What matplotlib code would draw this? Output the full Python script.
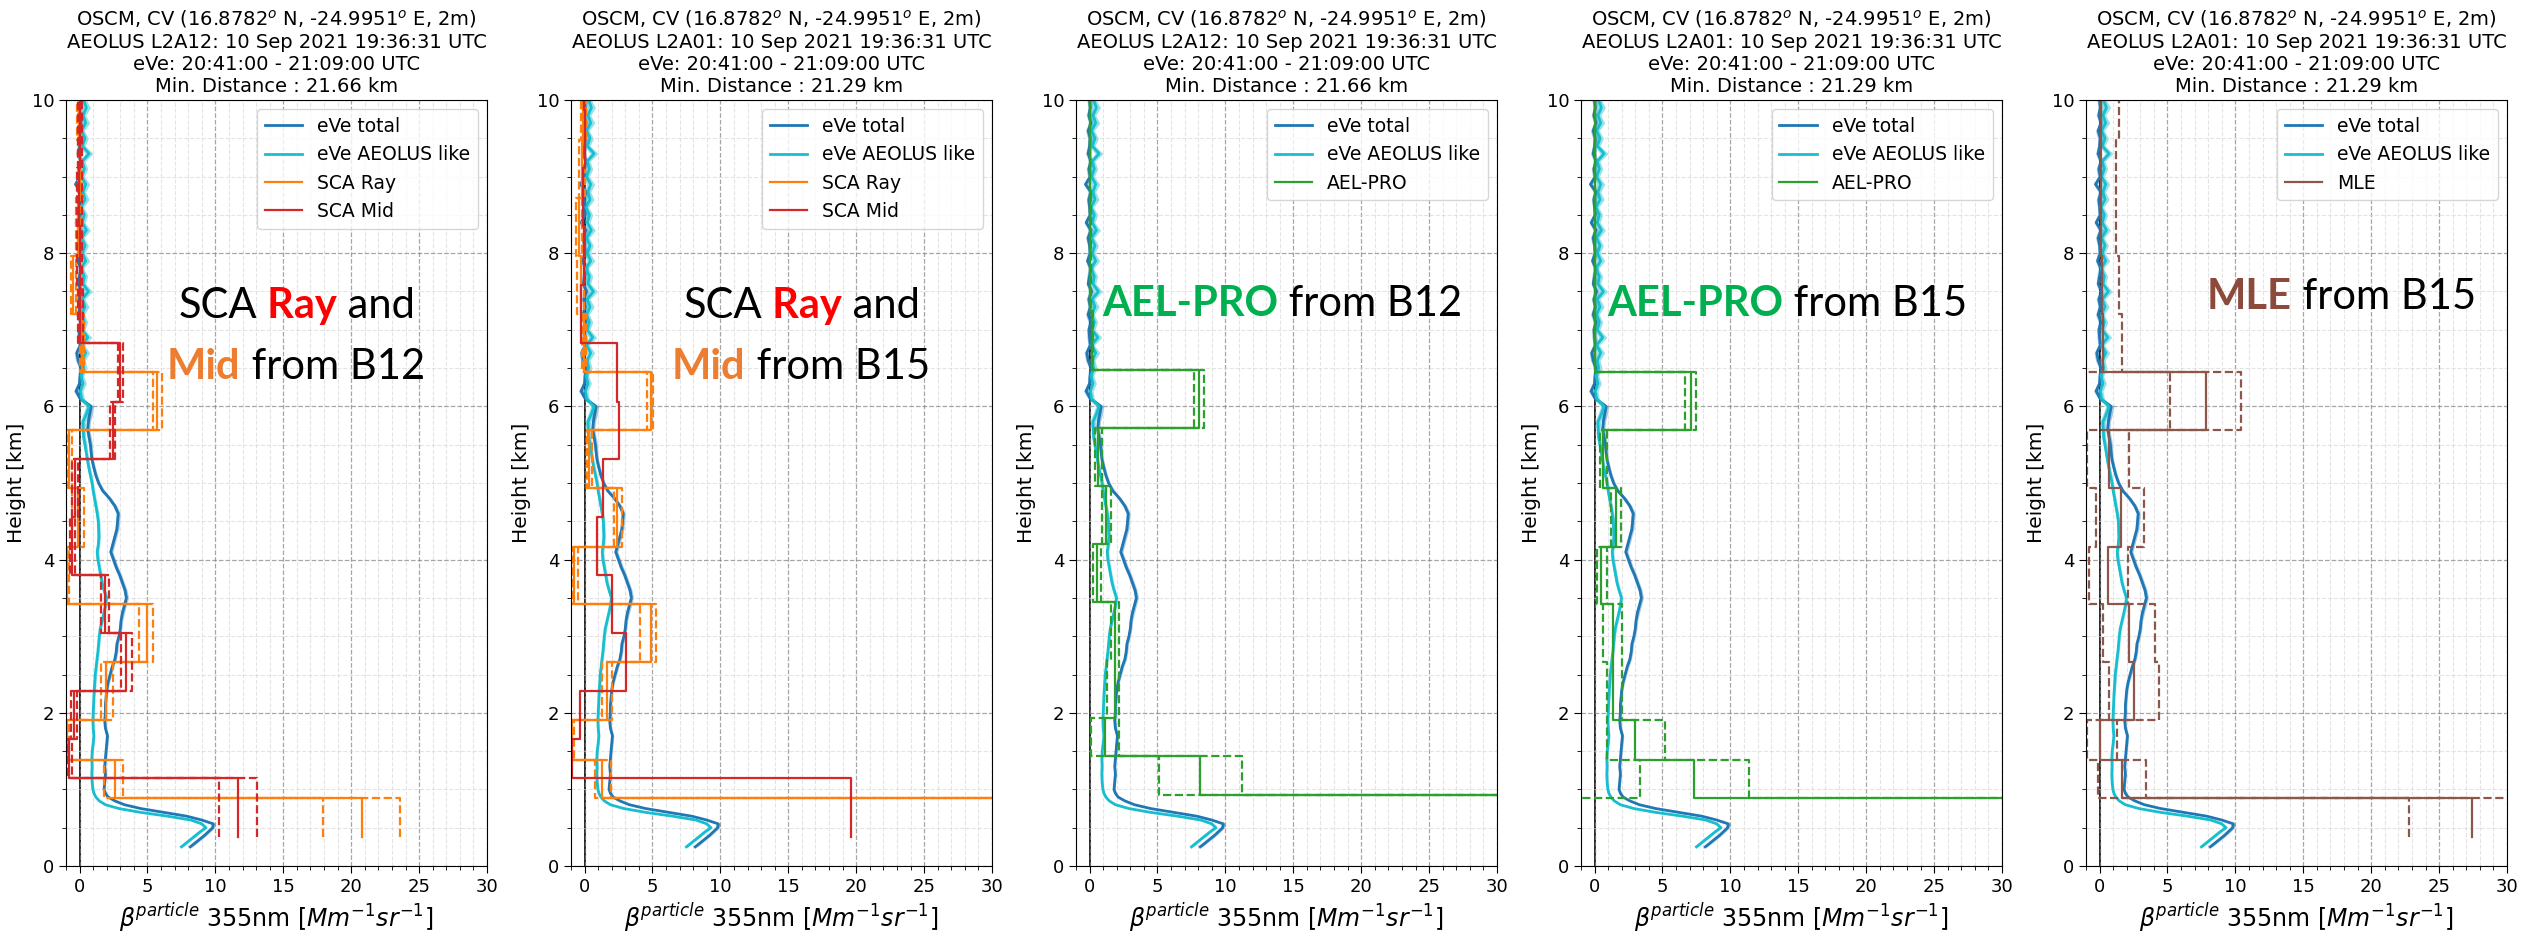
import numpy as np
import matplotlib
matplotlib.use('Agg')
import matplotlib.pyplot as plt
from matplotlib.ticker import MultipleLocator

# eVe profiles (height in km, beta in Mm-1 sr-1)
height = [0.25, 0.3, 0.35, 0.4, 0.45, 0.5, 0.55, 0.6, 0.65, 0.7, 0.75, 0.8, 0.85, 0.9, 0.95,
          1.0, 1.1, 1.2, 1.3, 1.4, 1.5, 1.6, 1.7, 1.8, 1.9,
          2.0, 2.1, 2.2, 2.3, 2.4, 2.5, 2.6, 2.7, 2.8, 2.9,
          3.0, 3.1, 3.2, 3.3, 3.4, 3.5, 3.6, 3.7, 3.8, 3.9,
          4.0, 4.1, 4.2, 4.3, 4.4, 4.5, 4.6, 4.7, 4.8, 4.9,
          5.0, 5.1, 5.2, 5.3, 5.4, 5.5, 5.6, 5.7, 5.8, 5.9,
          6.0, 6.1, 6.2, 6.3, 6.4, 6.5, 6.6, 6.7, 6.8, 6.9,
          7.0, 7.1, 7.2, 7.3, 7.4, 7.5, 7.6, 7.7, 7.8, 7.9,
          8.0, 8.1, 8.2, 8.3, 8.4, 8.5, 8.6, 8.7, 8.8, 8.9,
          9.0, 9.1, 9.2, 9.3, 9.4, 9.5, 9.6, 9.7, 9.8, 9.9, 10.0]

eve_total = [8.15, 8.5, 8.85, 9.2, 9.5, 9.8, 9.85, 9.0, 7.9, 6.2, 4.5, 3.3, 2.6, 2.1, 1.9,
             1.8, 1.85, 1.9, 1.85, 1.9, 1.95, 2.0, 2.05, 1.9, 1.85,
             1.9, 1.9, 1.95, 2.0, 2.1, 2.25, 2.4, 2.6, 2.7, 2.75,
             2.9, 3.0, 3.05, 3.15, 3.3, 3.45, 3.35, 3.15, 2.95, 2.7,
             2.5, 2.3, 2.45, 2.6, 2.75, 2.8, 2.85, 2.6, 2.2, 1.7,
             1.4, 1.2, 1.05, 0.92, 0.85, 0.8, 0.7, 0.6, 0.65, 0.75,
             0.85, 0.05, -0.25, 0.0, 0.05, 0.1, -0.1, -0.2, 0.05, 0.0,
             -0.05, 0.1, -0.1, 0.05, -0.05, 0.15, -0.1, 0.0, 0.1, -0.15,
             0.05, 0.0, -0.1, 0.1, -0.25, 0.05, 0.0, -0.05, 0.1, -0.3,
             0.05, -0.05, 0.1, -0.1, 0.0, 0.05, -0.1, 0.1, -0.05, 0.05, 0.0]
eve_total_err = [0.15, 0.15, 0.15, 0.15, 0.15, 0.15, 0.15, 0.15, 0.12, 0.12, 0.1, 0.1, 0.1, 0.1, 0.1,
                 0.08, 0.08, 0.08, 0.08, 0.08, 0.1, 0.1, 0.1, 0.1, 0.1,
                 0.1, 0.1, 0.1, 0.1, 0.1, 0.12, 0.12, 0.12, 0.12, 0.12,
                 0.12, 0.12, 0.12, 0.15, 0.15, 0.15, 0.15, 0.15, 0.15, 0.15,
                 0.15, 0.15, 0.15, 0.15, 0.15, 0.15, 0.15, 0.15, 0.15, 0.15,
                 0.12, 0.12, 0.12, 0.12, 0.12, 0.15, 0.15, 0.15, 0.15, 0.2,
                 0.2, 0.15, 0.2, 0.15, 0.2, 0.15, 0.2, 0.2, 0.15, 0.2,
                 0.15, 0.2, 0.2, 0.15, 0.2, 0.2, 0.15, 0.2, 0.2, 0.15,
                 0.2, 0.15, 0.2, 0.2, 0.15, 0.2, 0.15, 0.2, 0.2, 0.15,
                 0.2, 0.2, 0.15, 0.2, 0.15, 0.2, 0.2, 0.15, 0.2, 0.15, 0.2]

eve_like = [7.5, 7.85, 8.2, 8.55, 8.9, 9.3, 9.0, 8.2, 6.5, 4.5, 2.9, 1.9, 1.45, 1.2, 1.05,
            0.98, 0.92, 0.9, 0.92, 0.9, 0.93, 1.0, 1.05, 1.0, 0.98,
            1.0, 1.03, 1.05, 1.08, 1.12, 1.15, 1.22, 1.28, 1.35, 1.4,
            1.45, 1.52, 1.65, 1.78, 1.9, 1.98, 1.8, 1.65, 1.55, 1.45,
            1.35, 1.3, 1.38, 1.42, 1.4, 1.38, 1.3, 1.2, 1.1, 1.0,
            0.92, 0.8, 0.68, 0.58, 0.49, 0.4, 0.3, 0.27, 0.25, 0.5,
            0.7, 0.15, 0.05, 0.25, 0.1, 0.3, 0.2, 0.45, 0.15, 0.6,
            0.2, 0.35, 0.15, 0.4, 0.2, 0.65, 0.25, 0.35, 0.1, 0.45,
            0.2, 0.4, 0.15, 0.5, 0.2, 0.35, 0.1, 0.4, 0.25, 0.45,
            0.15, 0.35, 0.2, 0.7, 0.2, 0.4, 0.15, 0.45, 0.25, 0.5, 0.3]
eve_like_err = [0.12, 0.12, 0.12, 0.12, 0.12, 0.12, 0.12, 0.12, 0.1, 0.1, 0.1, 0.08, 0.08, 0.08, 0.08,
                0.08, 0.08, 0.08, 0.08, 0.08, 0.08, 0.08, 0.08, 0.08, 0.08,
                0.08, 0.08, 0.08, 0.1, 0.1, 0.1, 0.1, 0.1, 0.1, 0.1,
                0.1, 0.1, 0.1, 0.1, 0.1, 0.12, 0.12, 0.12, 0.12, 0.12,
                0.12, 0.12, 0.12, 0.12, 0.12, 0.12, 0.12, 0.12, 0.12, 0.12,
                0.12, 0.12, 0.12, 0.12, 0.12, 0.15, 0.15, 0.15, 0.2, 0.25,
                0.25, 0.2, 0.2, 0.25, 0.2, 0.25, 0.2, 0.3, 0.2, 0.3,
                0.2, 0.25, 0.2, 0.3, 0.2, 0.3, 0.2, 0.25, 0.2, 0.3,
                0.2, 0.25, 0.2, 0.3, 0.2, 0.25, 0.2, 0.3, 0.2, 0.3,
                0.2, 0.25, 0.2, 0.3, 0.2, 0.25, 0.2, 0.3, 0.2, 0.3, 0.2]

# AEOLUS bin edges (km)
edges_b15 = [0.38, 0.89, 1.39, 1.9, 2.66, 3.42, 4.17, 4.93, 5.69, 6.45, 7.2, 7.96, 8.72, 9.48, 10.24]
edges_b12 = [0.38, 0.93, 1.43, 1.93, 2.69, 3.45, 4.2, 4.96, 5.72, 6.48, 7.24, 8.0, 8.76, 9.52, 10.28]
edges_mid = [0.38, 1.15, 1.66, 2.28, 3.04, 3.8, 4.55, 5.31, 6.06, 6.83, 7.59, 8.35, 9.11, 9.87, 10.63]

# SCA Rayleigh / Mid bins, B12
ray12 = [20.8, 2.6, -0.9, 1.98, 4.95, -0.9, -0.1, -0.75, 5.73, 0.2, -0.45, -0.1, 0.0, -0.05]
ray12_lo = [17.9, 1.83, -1.1, 1.6, 4.34, -1.05, -0.55, -0.95, 5.4, 0.05, -0.65, -0.3, -0.15, -0.2]
ray12_hi = [23.6, 3.2, -0.8, 2.46, 5.44, -0.75, 0.3, -0.55, 6.05, 0.35, -0.3, 0.1, 0.15, 0.1]
mid12 = [11.7, -0.75, -0.42, 3.45, 1.85, -0.55, -0.35, 2.44, 3.0, 0.05, 0.0, -0.05, 0.05, 0.0]
mid12_lo = [10.3, -0.85, -0.65, 3.05, 1.6, -0.7, -0.55, 2.27, 2.83, -0.15, -0.2, -0.2, -0.15, -0.15]
mid12_hi = [13.1, -0.55, -0.2, 3.85, 2.15, -0.35, -0.15, 2.63, 3.17, 0.25, 0.2, 0.15, 0.2, 0.2]

# SCA Rayleigh / Mid bins, B15
ray15 = [40.0, 1.3, -0.91, 1.67, 4.88, -0.8, 2.41, 0.32, 4.88, -0.05, -0.3, -0.4, -0.2, -0.1]
ray15_lo = [38.0, 0.74, -1.1, 1.26, 4.06, -0.95, 2.17, 0.2, 4.63, -0.17, -0.55, -0.6, -0.4, -0.3]
ray15_hi = [42.0, 1.92, -0.75, 2.05, 5.25, -0.5, 2.78, 0.52, 5.05, 0.12, -0.05, -0.2, 0.0, 0.1]
mid15 = [19.6, -0.96, -0.37, 3.03, 2.0, 0.89, 1.35, 2.54, 2.36, -0.3, -0.05, -0.1, 0.0, -0.05]

# AEL-PRO
ael12 = [45.0, 8.15, 1.12, 1.85, 1.85, 0.56, 1.22, 0.61, 8.07, 0.2, 0.05, 0.05, 0.03, 0.03]
ael12_lo = [35.0, 5.1, 0.07, 1.3, 1.55, 0.27, 0.93, 0.4, 7.7, 0.15, 0.02, 0.02, 0.0, 0.0]
ael12_hi = [60.0, 11.2, 2.2, 2.2, 2.15, 0.85, 1.6, 0.88, 8.4, 0.25, 0.08, 0.08, 0.06, 0.06]
ael15 = [45.0, 7.3, 3.0, 1.32, 1.36, 0.44, 1.6, 0.63, 7.07, 0.02, 0.02, 0.02, 0.02, 0.02]
ael15_lo = [-5.0, 3.37, 0.88, 0.9, 0.6, 0.15, 1.22, 0.37, 6.65, 0.0, 0.0, 0.0, 0.0, 0.0]
ael15_hi = [90.0, 11.4, 5.2, 2.0, 2.0, 0.93, 1.95, 0.93, 7.5, 0.05, 0.05, 0.05, 0.05, 0.05]

# MLE B15
mle = [27.4, 1.65, 0.0, 2.5, 2.15, 0.62, 1.58, 0.67, 7.83, 0.25, 0.15, 0.1, 0.1, 0.1]
mle_lo = [22.8, -0.1, -0.95, 0.67, 0.22, -0.8, -0.25, -0.94, 5.2, -1.5, -1.5, -1.5, -1.5, -1.5]
mle_hi = [40.0, 3.4, 1.3, 4.4, 4.05, 2.07, 3.3, 2.15, 10.4, 1.67, 1.43, 1.2, 1.2, 1.45]

products = ['L2A12', 'L2A01', 'L2A12', 'L2A01', 'L2A01']
distances = ['21.66', '21.29', '21.66', '21.29', '21.29']

panels = [
    [(edges_b15, ray12, ray12_lo, ray12_hi, 'tab:orange', 'SCA Ray'),
     (edges_mid, mid12, mid12_lo, mid12_hi, 'tab:red', 'SCA Mid')],
    [(edges_b15, ray15, ray15_lo, ray15_hi, 'tab:orange', 'SCA Ray'),
     (edges_mid, mid15, None, None, 'tab:red', 'SCA Mid')],
    [(edges_b12, ael12, ael12_lo, ael12_hi, 'tab:green', 'AEL-PRO')],
    [(edges_b15, ael15, ael15_lo, ael15_hi, 'tab:green', 'AEL-PRO')],
    [(edges_b15, mle, mle_lo, mle_hi, 'tab:brown', 'MLE')],
]

# big coloured notes: (x, y) in axes fraction, list of (text, colour, weight)
notes = [
    [(0.268, 0.706, [('SCA', 'black', 'normal'), (' Ray', '#ff0000', 'bold'), (' and', 'black', 'normal')]),
     (0.240, 0.627, [('Mid', '#ed7d31', 'bold'), (' from B12', 'black', 'normal')])],
    [(0.268, 0.706, [('SCA', 'black', 'normal'), (' Ray', '#ff0000', 'bold'), (' and', 'black', 'normal')]),
     (0.240, 0.627, [('Mid', '#ed7d31', 'bold'), (' from B15', 'black', 'normal')])],
    [(0.062, 0.709, [('AEL-PRO', '#00b050', 'bold'), (' from B12', 'black', 'normal')])],
    [(0.062, 0.709, [('AEL-PRO', '#00b050', 'bold'), (' from B15', 'black', 'normal')])],
    [(0.287, 0.718, [('MLE', '#8c4a3c', 'bold'), (' from B15', 'black', 'normal')])],
]


def draw_steps(ax, edges, vals, color, ls, label=None):
    y = np.repeat(edges, 2)[1:-1]
    x = np.repeat(vals, 2)
    ax.plot(x, y, color=color, ls=ls, lw=1.6, label=label)


h = np.array(height)
tot = np.array(eve_total)
tot_e = np.array(eve_total_err)
like = np.array(eve_like)
like_e = np.array(eve_like_err)

fig = plt.figure(figsize=(25.26, 9.32), dpi=100)
lefts = [66, 571, 1076, 1581, 2086]

for i in range(5):
    ax = fig.add_axes([lefts[i] / 2526, 66 / 932, 421 / 2526, 766 / 932])
    ax.fill_betweenx(h, tot - tot_e, tot + tot_e, color='#1f77b4', alpha=0.4, lw=0)
    ax.plot(tot, h, color='#1f77b4', lw=2, label='eVe total')
    ax.fill_betweenx(h, like - like_e, like + like_e, color='#17becf', alpha=0.45, lw=0)
    ax.plot(like, h, color='#17becf', lw=2, label='eVe AEOLUS like')

    for edges, v, lo, hi, col, lab in panels[i]:
        draw_steps(ax, edges, v, col, '-', lab)
        if lo is not None:
            draw_steps(ax, edges, lo, col, '--')
            draw_steps(ax, edges, hi, col, '--')

    ax.axvline(0, color='k', lw=1.2, zorder=1)
    ax.set_xlim(-1, 30)
    ax.set_ylim(0, 10)
    ax.xaxis.set_major_locator(MultipleLocator(5))
    ax.xaxis.set_minor_locator(MultipleLocator(1))
    ax.yaxis.set_major_locator(MultipleLocator(2))
    ax.yaxis.set_minor_locator(MultipleLocator(0.5))
    ax.grid(which='major', ls='--', color='gray', alpha=0.7, lw=0.9)
    ax.grid(which='minor', ls='--', color='lightgray', alpha=0.6, lw=0.8)
    ax.tick_params(which='major', labelsize=13, length=5)
    ax.tick_params(which='minor', length=3)
    ax.set_xlabel(r'$\beta^{particle}$ 355nm [$Mm^{-1}sr^{-1}$]', fontsize=17)
    ax.set_ylabel('Height [km]', fontsize=14.5)
    ax.set_title('OSCM, CV (16.8782$^o$ N, -24.9951$^o$ E, 2m)\n'
                 'AEOLUS ' + products[i] + ': 10 Sep 2021 19:36:31 UTC\n'
                 'eVe: 20:41:00 - 21:09:00 UTC\n'
                 'Min. Distance : ' + distances[i] + ' km', fontsize=14, pad=6)
    ax.legend(loc='upper right', fontsize=13.5)

    for x, y, pieces in notes[i]:
        s, c, w = pieces[0]
        t = ax.text(x, y, s, color=c, fontweight=w, fontsize=30, family='Lato',
                    transform=ax.transAxes, ha='left', va='bottom')
        for s, c, w in pieces[1:]:
            t = ax.annotate(s, xy=(1, 0), xycoords=t, color=c, fontweight=w, fontsize=30,
                            family='Lato', ha='left', va='bottom')

fig.savefig('out.png', dpi=100)
